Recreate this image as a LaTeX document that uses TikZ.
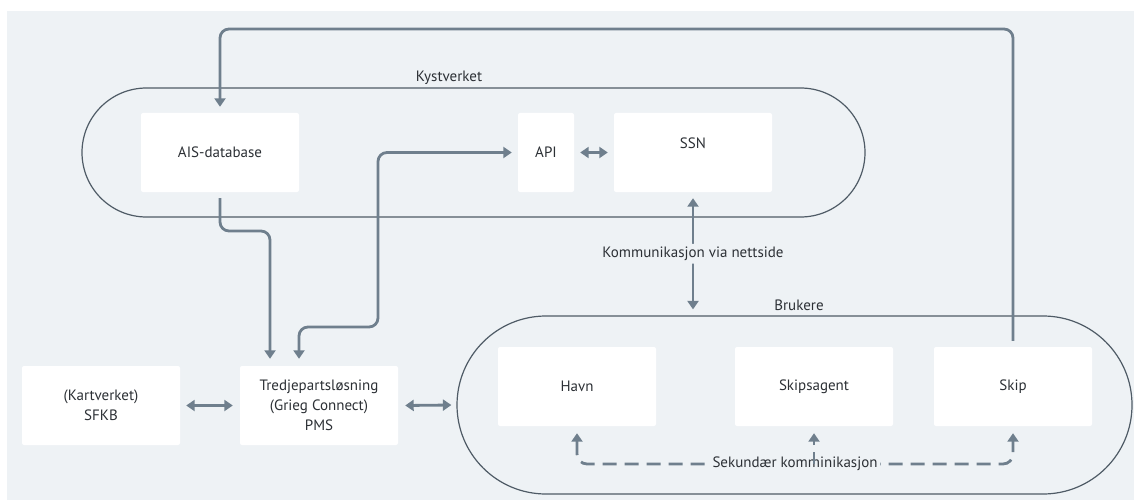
\documentclass[tikz,border=0pt]{standalone}
\usepackage{fontspec}
\setmainfont{PT Sans}
\usetikzlibrary{arrows.meta,shapes.misc,calc}
\definecolor{bg}{HTML}{EEF2F5}
\definecolor{linec}{HTML}{6F7F8D}
\definecolor{bord}{HTML}{4F5B66}
\definecolor{txt}{HTML}{2C3035}
\begin{document}
\begin{tikzpicture}[x=1pt,y=-1pt,
  mytip/.tip={Triangle[width=11pt,length=8.5pt]},
  box/.style={fill=white, rounded corners=2pt, minimum width=158pt, minimum height=79pt,
    inner sep=0pt, text=txt, font=\fontsize{15}{20}\selectfont, align=center},
  group/.style={draw=bord, line width=1.2pt, rounded rectangle, inner sep=0pt},
  conn/.style={draw=linec, line width=2.8pt, rounded corners=9pt, -mytip},
  dconn/.style={conn, mytip-mytip},
  dashpat/.style={dash pattern=on 14pt off 8pt},
  lbl/.style={text=txt, font=\fontsize{15}{18}\selectfont, inner sep=3pt},
  lblbg/.style={lbl, fill=bg},
]
\useasboundingbox (0,0) rectangle (1134,500);
\fill[bg] (7,11) rectangle (1134,500);

% groups
\node[group, minimum width=783pt, minimum height=129pt] (kyst) at (473.5,152.5) {};
\node[lbl] (kystlbl) at (449,78) {Kystverket};
\node[group, minimum width=675pt, minimum height=178pt] (bruk) at (794.5,405) {};
\node[lbl] (bruklbl) at (799,305) {Brukere};

% boxes
\node[box] (ais) at (220,152.5) {AIS-database};
\node[box, minimum width=56pt] (api) at (546,152.5) {API};
\node[box] (ssn) at (693,152.5) {};
\node[lbl] (ssntext) at (693,143) {SSN};
\node[box] (sfkb) at (101,405.5) {(Kartverket)\\SFKB};
\node[box] (pms) at (319,405.5) {Tredjepartsløsning\\(Grieg Connect)\\PMS};
\node[box] (havn) at (577,386.5) {Havn};
\node[box] (agent) at (814,386.5) {Skipsagent};
\node[box] (skip) at (1013,386.5) {Skip};

\coordinate (topy) at (0,29);
\coordinate (jogy) at (0,231);
\coordinate (jog2y) at (0,327);
\coordinate (jog2x) at (378,0);
\coordinate (dashy) at (0,464);
\coordinate (midhs) at ($(havn.south)!0.5!(skip.south)$);

% Skip -> AIS top loop
\draw[conn] ([yshift=6pt]skip.north) -- (skip.north |- topy) -- (ais.north |- topy) -- ([yshift=6pt]ais.north);

% AIS -> PMS
\draw[conn] ([yshift=-6pt]ais.south) -- (ais.south |- jogy) -- ([xshift=-49pt]pms.north |- jogy) -- ([xshift=-49pt,yshift=7pt]pms.north);

% PMS <-> API
\draw[dconn] ([xshift=-20pt,yshift=7pt]pms.north) -- ([xshift=-20pt]pms.north |- jog2y) -- (jog2x |- jog2y) -- (jog2x |- api.west) -- ([xshift=-6pt]api.west);

% API <-> SSN
\draw[dconn] ([xshift=6pt]api.east) -- ([xshift=-6pt]ssn.west);

% SSN <-> Brukere
\draw[dconn] ([yshift=-6pt]ssn.south) -- ([yshift=6pt]ssn.south |- bruk.north)
  node[midway, lblbg] (komm) {Kommunikasjon via nettside};

% SFKB <-> PMS, PMS <-> Brukere
\draw[dconn] ([xshift=6pt]sfkb.east) -- ([xshift=-7pt]pms.west);
\draw[dconn] ([xshift=7pt]pms.east) -- ([xshift=-5pt]bruk.west);

% secondary communication
\draw[dconn, dashpat, rounded corners=10pt] ([yshift=-7pt]havn.south) -- (havn.south |- dashy) -- (skip.south |- dashy) -- ([yshift=-7pt]skip.south);
\node[lblbg, inner sep=2pt] (sek) at (midhs |- dashy) {Sekundær komminikasjon};
\draw[conn, dash pattern=on 12pt off 7pt on 30pt, rounded corners=0pt] (agent.south |- dashy) -- ([yshift=-7pt]agent.south);
\end{tikzpicture}
\end{document}
